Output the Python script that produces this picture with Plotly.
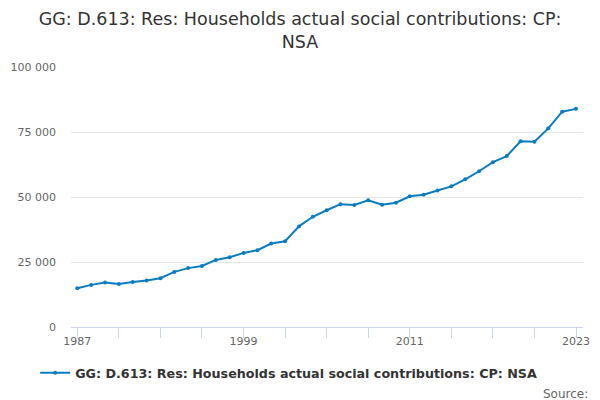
import plotly.graph_objects as go

years = list(range(1987, 2024))
values = [14.9, 16.2, 17.1, 16.5, 17.35, 17.9, 18.75, 21.2, 22.65, 23.45,
          25.8, 26.8, 28.5, 29.55, 32.1, 33.0, 38.7, 42.4, 44.9, 47.25,
          46.95, 48.75, 47.05, 47.8, 50.3, 50.85, 52.5, 54.1, 56.8, 59.9,
          63.4, 65.75, 71.4, 71.25, 76.4, 82.8, 83.9]
values = [v * 1000 for v in values]

series_name = "GG: D.613: Res: Households actual social contributions: CP: NSA"
title_text = "GG: D.613: Res: Households actual social contributions: CP:<br>NSA"
y_ticks = [0, 25000, 50000, 75000, 100000]
y_labels = ["0", "25 000", "50 000", "75 000", "100 000"]
x_ticks = list(range(1987, 2024, 3))
x_labels = [str(y) if (y - 1987) % 12 == 0 else "" for y in x_ticks]

fig = go.Figure()
fig.add_trace(go.Scatter(
    x=years, y=values, mode="lines+markers", name="<b>" + series_name + "</b>",
    line=dict(color="#0a7cc0", width=2),
    marker=dict(color="#0a7cc0", size=4, symbol="circle"),
))

fig.update_layout(
    width=600, height=400,
    paper_bgcolor="white", plot_bgcolor="white",
    margin=dict(l=71, r=17, t=67, b=73, autoexpand=False),
    font=dict(family="DejaVu Sans", color="#666666"),
    title=dict(text=title_text, x=0.5, xanchor="center", xref="container",
               y=0.938, yanchor="middle", yref="container",
               font=dict(family="DejaVu Sans", size=17.5, color="#333333")),
    xaxis=dict(range=[1986.545, 2023.505], tickvals=x_ticks, ticktext=x_labels,
               ticks="outside", ticklen=10, tickcolor="#ccd6eb", tickwidth=1,
               showline=True, linecolor="#ccd6eb", linewidth=1,
               showgrid=False, zeroline=False, ticklabelstandoff=-6,
               tickfont=dict(size=11, color="#666666")),
    yaxis=dict(range=[0, 100000], tickvals=y_ticks, ticktext=y_labels,
               showgrid=True, gridcolor="#e6e6e6", gridwidth=1,
               zeroline=False, showline=False, ticks="", ticklabelstandoff=14,
               tickfont=dict(size=11, color="#666666")),
    showlegend=True,
    legend=dict(orientation="h", x=-0.07, xanchor="left", y=-0.119, yanchor="top",
                font=dict(size=12.7, color="#333333", family="DejaVu Sans"),
                itemwidth=30),
    annotations=[dict(text="Source:", xref="paper", yref="paper", x=1.0, y=-0.223,
                      xanchor="right", yanchor="top", showarrow=False, xshift=7,
                      font=dict(size=12, color="#666666"))],
)

fig.write_html("out.html", config={"displayModeBar": False},
               post_script="document.body.style.margin='0px';")
